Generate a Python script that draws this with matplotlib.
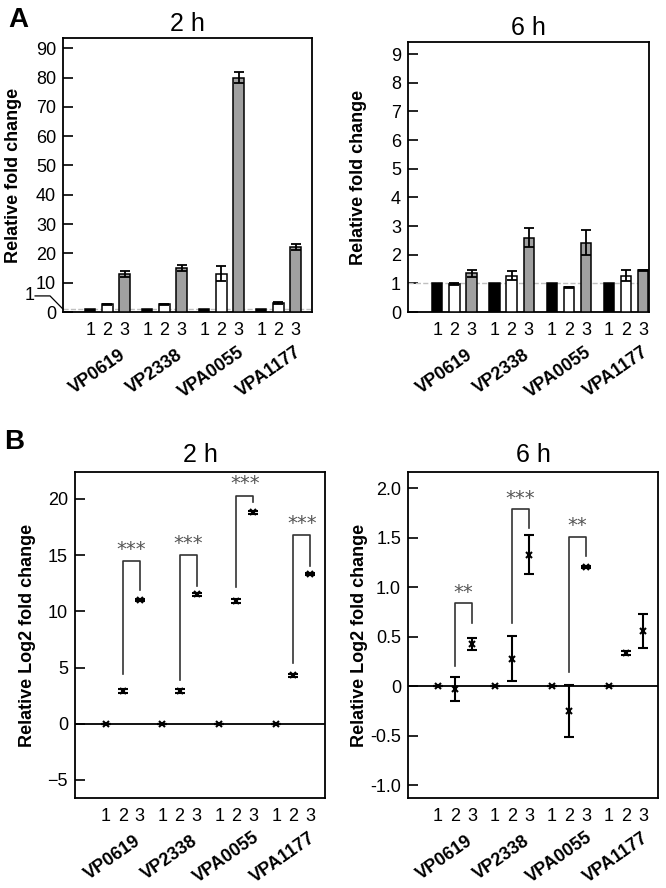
"""Relative fold change (A) and log2 fold change (B) of four genes at 2 h and 6 h."""

import matplotlib
matplotlib.use("Agg")
import matplotlib.pyplot as plt
import numpy as np

plt.rcParams["font.family"] = ["Liberation Sans", "DejaVu Sans"]

genes = ["VP0619", "VP2338", "VPA0055", "VPA1177"]
conditions = ["1", "2", "3"]

# panel A, relative fold change (bars)
fold_2h = [[1.0, 1.0, 1.0, 1.0],
           [2.6, 2.6, 13.1, 3.1],
           [13.1, 15.0, 80.0, 22.2]]
fold_2h_err = [[0.0, 0.0, 0.0, 0.0],
               [0.2, 0.2, 2.6, 0.3],
               [1.0, 1.0, 2.0, 1.0]]
fold_6h = [[1.0, 1.0, 1.0, 1.0],
           [0.97, 1.27, 0.87, 1.27],
           [1.36, 2.60, 2.42, 1.46]]
fold_6h_err = [[0.0, 0.0, 0.0, 0.0],
               [0.03, 0.15, 0.02, 0.20],
               [0.12, 0.33, 0.43, 0.02]]

# panel B, relative log2 fold change (points)
log_2h = [[0.0, 0.0, 0.0, 0.0],
          [2.9, 2.9, 10.9, 4.3],
          [11.0, 11.5, 18.8, 13.3]]
log_2h_err = [[0.0, 0.0, 0.0, 0.0],
              [0.15, 0.15, 0.2, 0.12],
              [0.12, 0.1, 0.1, 0.1]]
log_6h = [[0.0, 0.0, 0.0, 0.0],
          [-0.03, 0.28, -0.25, 0.34],
          [0.43, 1.33, 1.21, 0.56]]
log_6h_err = [[0.0, 0.0, 0.0, 0.0],
              [0.12, 0.23, 0.26, 0.02],
              [0.06, 0.20, 0.01, 0.175]]

# significance brackets: group, left foot, right foot, top, label
sig_2h_groups = [0, 1, 2, 3]
sig_2h_left = [4.4, 3.85, 12.2, 5.45]
sig_2h_right = [11.9, 12.3, 19.7, 14.07]
sig_2h_top = [14.5, 15.0, 20.3, 16.8]
sig_2h_labels = ["***", "***", "***", "***"]

sig_6h_groups = [0, 1, 2]
sig_6h_left = [0.2, 0.64, 0.14]
sig_6h_right = [0.64, 1.6, 1.32]
sig_6h_top = [0.84, 1.79, 1.51]
sig_6h_labels = ["**", "***", "**"]

bar_colors = ["#000000", "#ffffff", "#a0a0a0"]
offsets = [-0.3, 0.0, 0.3]
FS = 13


def style_axes(ax, xlim, ylim, yticks, yticklabels=None):
    ax.set_xlim(*xlim)
    ax.set_ylim(*ylim)
    ax.set_yticks(yticks)
    if yticklabels is not None:
        ax.set_yticklabels(yticklabels)
    pos = [g + o for g in range(len(genes)) for o in offsets]
    ax.set_xticks(pos)
    ax.set_xticklabels(conditions * len(genes))
    ax.tick_params(axis="x", length=0, pad=7, labelsize=FS)
    ax.tick_params(axis="y", direction="in", length=7, width=1.2, pad=5, labelsize=FS)
    for s in ax.spines.values():
        s.set_linewidth(1.3)
    for g, name in enumerate(genes):
        ax.annotate(name, xy=(g, 0), xycoords=ax.get_xaxis_transform(),
                    xytext=(-10, -60), textcoords="offset pixels",
                    ha="center", va="center", rotation=35,
                    fontsize=FS, fontweight="bold")


def bar_panel(ax, vals, errs):
    x = np.arange(len(genes))
    for i in range(3):
        ax.bar(x + offsets[i], vals[i], 0.18, color=bar_colors[i],
               edgecolor="black", linewidth=1.1, zorder=3)
        if i > 0:
            ax.errorbar(x + offsets[i], vals[i], yerr=errs[i], fmt="none",
                        ecolor="black", elinewidth=1.3, capsize=3.5,
                        capthick=1.3, zorder=4)
    ax.axhline(1, color="#c0c0c0", linestyle="--", linewidth=1, zorder=2)


def point_panel(ax, vals, errs, groups, left, right, top, labels, gap):
    x = np.arange(len(genes))
    ax.axhline(0, color="black", linewidth=1.3, zorder=2)
    for i in range(3):
        ax.errorbar(x + offsets[i], vals[i], yerr=errs[i], fmt="x",
                    color="black", ms=5, mew=1.5, elinewidth=1.5,
                    capsize=3.5, capthick=1.5, zorder=4)
    for g, yl, yr, yt, lab in zip(groups, left, right, top, labels):
        xl, xr = g + offsets[1], g + offsets[2]
        ax.plot([xl, xl, xr, xr], [yl, yt, yt, yr], color="#333333",
                linewidth=1.2, zorder=3)
        ax.text((xl + xr) / 2, yt + gap, lab, ha="center", va="bottom",
                fontsize=14, color="#555555", family="DejaVu Sans")


fig = plt.figure(figsize=(6.66, 8.88), dpi=100)

# A, 2 h
ax1 = fig.add_axes([0.0946, 0.6486, 0.374, 0.3086])
bar_panel(ax1, fold_2h, fold_2h_err)
style_axes(ax1, (-0.78, 3.59), (0, 93.5), range(0, 100, 10))
ax1.set_ylabel("Relative fold change", fontsize=FS, fontweight="bold")
ax1.yaxis.set_label_coords(-0.165, 0.5)
ax1.set_title("2 h", fontsize=18, pad=5)
tr = ax1.get_yaxis_transform()
ax1.plot([-0.112, -0.052, 0.0], [5.5, 5.5, 1.0], color="black",
         linewidth=0.9, transform=tr, clip_on=False)
ax1.text(-0.133, 5.5, "1", transform=tr, ha="center", va="center", fontsize=FS)

# A, 6 h
ax2 = fig.add_axes([0.6126, 0.6486, 0.3619, 0.304])
bar_panel(ax2, fold_6h, fold_6h_err)
style_axes(ax2, (-0.81, 3.40), (0, 9.42), range(0, 10))
ax2.set_ylabel("Relative fold change", fontsize=FS, fontweight="bold")
ax2.yaxis.set_label_coords(-0.17, 0.5)
ax2.set_title("6 h", fontsize=18, pad=5)

# B, 2 h
ax3 = fig.add_axes([0.1126, 0.1014, 0.3754, 0.3671])
point_panel(ax3, log_2h, log_2h_err, sig_2h_groups, sig_2h_left,
            sig_2h_right, sig_2h_top, sig_2h_labels, 0.2)
style_axes(ax3, (-0.84, 3.56), (-6.6, 22.4), [-5, 0, 5, 10, 15, 20])
ax3.set_ylabel("Relative Log2 fold change", fontsize=FS, fontweight="bold")
ax3.yaxis.set_label_coords(-0.156, 0.5)
ax3.set_title("2 h", fontsize=18, pad=7)

# B, 6 h
ax4 = fig.add_axes([0.6126, 0.1014, 0.3754, 0.3671])
point_panel(ax4, log_6h, log_6h_err, sig_6h_groups, sig_6h_left,
            sig_6h_right, sig_6h_top, sig_6h_labels, 0.015)
style_axes(ax4, (-0.82, 3.56), (-1.128, 2.165),
           [-1.0, -0.5, 0, 0.5, 1.0, 1.5, 2.0],
           ["-1.0", "-0.5", "0", "0.5", "1.0", "1.5", "2.0"])
ax4.set_ylabel("Relative Log2 fold change", fontsize=FS, fontweight="bold")
ax4.yaxis.set_label_coords(-0.16, 0.5)
ax4.set_title("6 h", fontsize=18, pad=7)

fig.text(0.027, 0.977, "A", fontsize=20, fontweight="bold", ha="center", va="center")
fig.text(0.021, 0.502, "B", fontsize=20, fontweight="bold", ha="center", va="center")

fig.savefig("out.png", dpi=100, facecolor="white")
